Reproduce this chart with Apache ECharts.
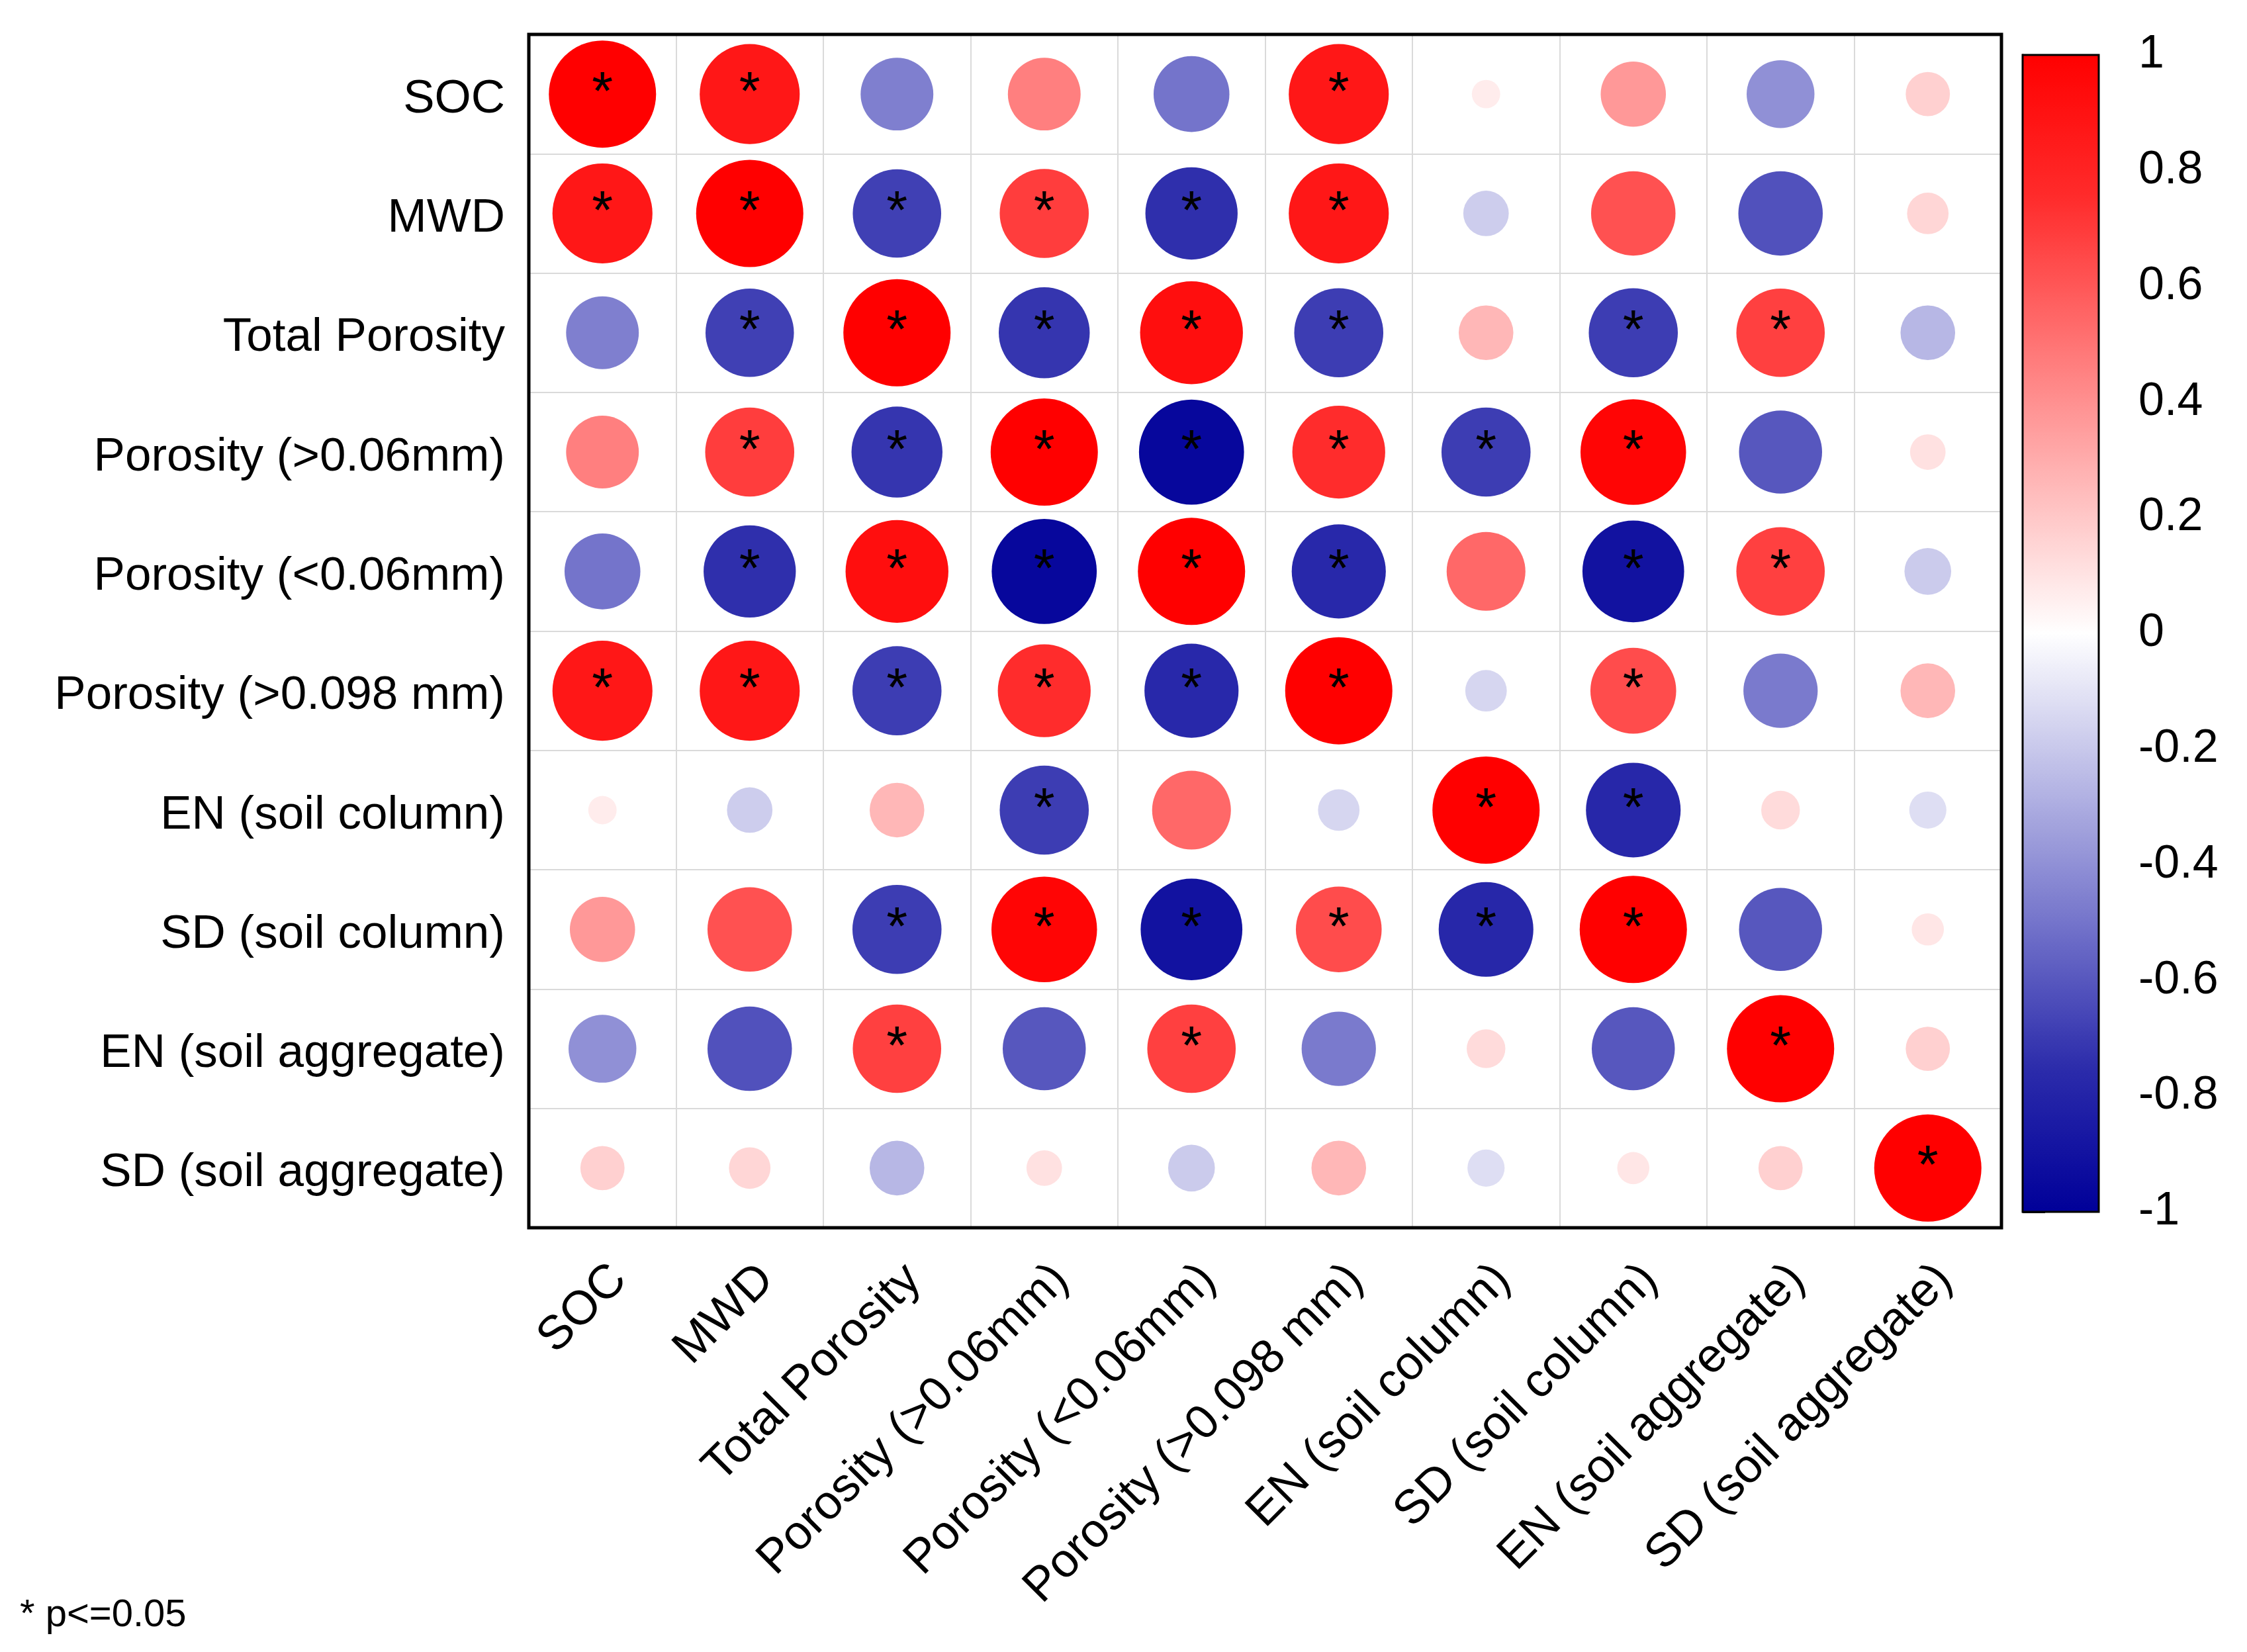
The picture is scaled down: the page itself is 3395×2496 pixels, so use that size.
<!DOCTYPE html>
<html>
<head>
<meta charset="utf-8">
<title>Correlation matrix</title>
<script src="https://cdn.jsdelivr.net/npm/echarts@6/dist/echarts.min.js"></script>
<style type="text/css">
html,body{margin:0;padding:0;background:#fff;}
#chart_main{width:3395px;height:2496px;}
</style>
</head>
<body>
<div id="chart_main"></div>
<script type="text/javascript">
// variable names, same order on both axes
var labels = ['SOC', 'MWD', 'Total Porosity', 'Porosity (>0.06mm)', 'Porosity (<0.06mm)',
	'Porosity (>0.098 mm)', 'EN (soil column)', 'SD (soil column)', 'EN (soil aggregate)', 'SD (soil aggregate)'];

// correlation coefficients, one row per variable
var corr = [
	[ 1.00,  0.87, -0.46,  0.46, -0.50,  0.87,  0.07,  0.37, -0.40,  0.17],
	[ 0.87,  1.00, -0.68,  0.69, -0.74,  0.87, -0.18,  0.62, -0.62,  0.15],
	[-0.46, -0.68,  1.00, -0.72,  0.92, -0.69,  0.26, -0.69,  0.68, -0.26],
	[ 0.46,  0.69, -0.72,  1.00, -0.96,  0.75, -0.69,  0.97, -0.60,  0.11],
	[-0.50, -0.74,  0.92, -0.96,  1.00, -0.77,  0.54, -0.90,  0.68, -0.19],
	[ 0.87,  0.87, -0.69,  0.75, -0.77,  1.00, -0.15,  0.64, -0.48,  0.26],
	[ 0.07, -0.18,  0.26, -0.69,  0.54, -0.15,  1.00, -0.78,  0.13, -0.12],
	[ 0.37,  0.62, -0.69,  0.97, -0.90,  0.64, -0.78,  1.00, -0.60,  0.09],
	[-0.40, -0.62,  0.68, -0.60,  0.68, -0.48,  0.13, -0.60,  1.00,  0.17],
	[ 0.17,  0.15, -0.26,  0.11, -0.19,  0.26, -0.12,  0.09,  0.17,  1.00]
];

// 1 = p<=0.05 (asterisk)
var sig = [
	[1,1,0,0,0,1,0,0,0,0],
	[1,1,1,1,1,1,0,0,0,0],
	[0,1,1,1,1,1,0,1,1,0],
	[0,1,1,1,1,1,1,1,0,0],
	[0,1,1,1,1,1,0,1,1,0],
	[1,1,1,1,1,1,0,1,0,0],
	[0,0,0,1,0,0,1,1,0,0],
	[0,0,1,1,1,1,1,1,0,0],
	[0,0,1,0,1,0,0,0,1,0],
	[0,0,0,0,0,0,0,0,0,1]
];

// colour bar ticks
var barTicks = [-1, -0.8, -0.6, -0.4, -0.2, 0, 0.2, 0.4, 0.6, 0.8, 1];

var font = "'Liberation Sans', Arial, sans-serif";

var points = [];
for (var i = 0; i < labels.length; i++) {
	for (var j = 0; j < labels.length; j++) {
		points.push([j, i, corr[i][j], sig[i][j]]);
	}
}

var myChart = echarts.init(document.getElementById('chart_main'), null, {renderer: 'canvas'});
var option = {
	backgroundColor: '#ffffff',
	animation: false,
	textStyle: {fontFamily: font},
	grid: [
		{left: 799, top: 52, width: 2225, height: 1803, show: true, borderColor: '#000', borderWidth: 5, backgroundColor: 'transparent', outerBoundsMode: 'none', z: 3},
		{left: 3056, top: 83, width: 115, height: 1748, show: true, borderColor: '#000', borderWidth: 3, backgroundColor: 'transparent', outerBoundsMode: 'none', z: 10}
	],
	xAxis: [
		{
			type: 'category', gridIndex: 0, data: labels, position: 'bottom',
			axisLine: {show: false}, axisTick: {show: false},
			splitLine: {show: true, interval: 0, lineStyle: {color: '#dadada', width: 2}},
			axisLabel: {interval: 0, rotate: 45, margin: 42, verticalAlign: 'top', fontSize: 72, color: '#000', fontFamily: font}
		},
		{type: 'value', gridIndex: 1, show: false, min: 0, max: 1}
	],
	yAxis: [
		{
			type: 'category', gridIndex: 0, data: labels, inverse: true,
			axisLine: {show: false}, axisTick: {show: false},
			splitLine: {show: true, interval: 0, lineStyle: {color: '#dadada', width: 2}},
			axisLabel: {
				interval: 0, margin: 36, color: '#000',
				formatter: function (v) { return '{a|' + v + '}'; },
				rich: {a: {fontSize: 71, fontFamily: font, color: '#000', padding: [16, 0, 0, 0]}}
			}
		},
		{
			type: 'value', gridIndex: 1, position: 'right', min: -1, max: 1, interval: 0.2,
			axisLine: {show: true, lineStyle: {color: '#000', width: 3}},
			axisTick: {show: true, length: 34, lineStyle: {color: '#000', width: 3}},
			splitLine: {show: false},
			axisLabel: {
				margin: 60, fontSize: 70, color: '#000', fontFamily: font,
				formatter: function (v) {
					var r = Math.round(v * 10) / 10;
					return barTicks.indexOf(r) >= 0 ? String(r) : '';
				}
			}
		}
	],
	visualMap: {
		type: 'continuous', seriesIndex: 0, dimension: 2, min: -1, max: 1,
		calculable: false, text: null, showLabel: false, hoverLink: false,
		left: 3056, top: 83, itemWidth: 115, itemHeight: 1748, padding: 0,
		inRange: {color: ['#000099', '#2c2cab', '#7474cb', '#babae6', '#ffffff', '#ffbaba', '#ff7474', '#ff2c2c', '#ff0000']}
	},
	series: [
		{
			type: 'scatter', xAxisIndex: 0, yAxisIndex: 0, data: points, z: 4,
			symbol: 'circle',
			symbolSize: function (d) { return 162 * Math.sqrt(Math.abs(d[2])); },
			itemStyle: {opacity: 1},
			label: {
				show: true, position: 'inside', color: '#000', fontSize: 82, fontFamily: font,
				textBorderWidth: 0,
				formatter: function (p) { return p.data[3] ? '*' : ''; }
			}
		},
		{type: 'scatter', xAxisIndex: 1, yAxisIndex: 1, data: []}
	],
	graphic: [
		{type: 'text', left: 30, top: 2412, style: {text: '* p<=0.05', fontSize: 58, fontFamily: font, fill: '#000'}}
	]
};
myChart.setOption(option);
</script>
</body>
</html>
